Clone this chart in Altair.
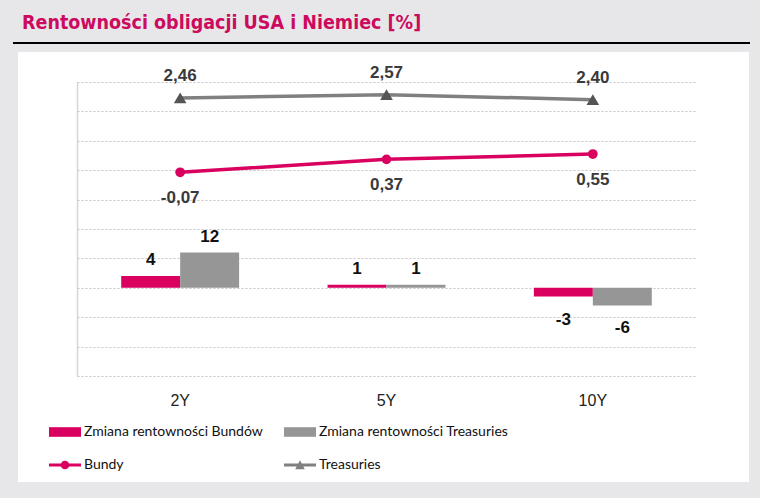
import altair as alt
import pandas as pd

# ---- data ----
categories = ["2Y", "5Y", "10Y"]
bund_yield = [-0.07, 0.37, 0.55]
treasury_yield = [2.46, 2.57, 2.40]
bund_change = [4, 1, -3]
treasury_change = [12, 1, -6]

series_bar = ["Zmiana rentowności Bundów", "Zmiana rentowności Treasuries"]
series_line = ["Bundy", "Treasuries"]
all_series = series_bar + series_line
title_text = "Rentowności obligacji USA i Niemiec [%]"

PINK = "#d9005f"
GRAY_BAR = "#969696"
GRAY_LINE = "#808080"
DARK_MARK = "#555555"
TITLE_COLOR = "#cc0a5e"
BG = "#e7e7e9"

bars_df = pd.DataFrame({
    "cat": categories * 2,
    "series": [series_bar[0]] * 3 + [series_bar[1]] * 3,
    "value": bund_change + treasury_change,
})
lines_df = pd.DataFrame({
    "cat": categories * 2,
    "series": [series_line[0]] * 3 + [series_line[1]] * 3,
    "value": bund_yield + treasury_yield,
})

bar_color_scale = alt.Scale(domain=series_bar, range=[PINK, GRAY_BAR])
line_color_scale = alt.Scale(domain=series_line, range=[PINK, GRAY_LINE])
fill_scale = alt.Scale(domain=all_series, range=[PINK, GRAY_BAR, PINK, GRAY_LINE])
shape_scale = alt.Scale(
    domain=all_series,
    range=[
        "M-1,-0.3H1V0.3H-1Z",
        "M-1,-0.3H1V0.3H-1Z",
        "M-1,-0.09H1V0.09H-1Z M-0.27,0 A0.27,0.27 0 1,1 0.27,0 A0.27,0.27 0 1,1 -0.27,0Z",
        "M-1,-0.09H1V0.09H-1Z M-0.3,0.26L0,-0.3L0.3,0.26Z",
    ],
)

x_enc = alt.X(
    "cat:N",
    sort=categories,
    scale=alt.Scale(paddingInner=0, paddingOuter=0),
    axis=alt.Axis(
        title=None, labelAngle=0, domain=False, ticks=False, grid=False,
        labelFont="Liberation Sans", labelFontSize=16, labelColor="#222222",
        labelPadding=16,
    ),
)
xoff_enc = alt.XOffset("series:N", sort=series_bar,
                       scale=alt.Scale(paddingInner=0, paddingOuter=0.75))
y_bar = alt.Y("value:Q", scale=alt.Scale(domain=[-30, 70], nice=False, zero=False), axis=None)
y_line_axis = alt.Y(
    "value:Q",
    scale=alt.Scale(domain=[-7, 3], nice=False, zero=False),
    axis=alt.Axis(
        orient="left", values=list(range(-7, 4)), labels=False, ticks=False,
        title=None, domain=True, domainColor="#d6d6d6", domainWidth=1.5,
        grid=True, gridColor="#c4c4c4", gridDash=[2, 2], gridWidth=1,
    ),
)
y_line = alt.Y("value:Q", scale=alt.Scale(domain=[-7, 3], nice=False, zero=False), axis=None)

one = alt.Data(values=[{"a": 1}])

# ---- decoration: grey margins around a white panel ----
def strip(x, x2, y, y2):
    return alt.Chart(one).mark_rect(color=BG).encode(
        x=alt.value(x), x2=alt.value(x2), y=alt.value(y), y2=alt.value(y2))

strips = [
    strip(-77, 683, -82, -30),
    strip(-77, -59, -82, 416),
    strip(672, 683, -82, 416),
    strip(-77, 683, 400, 416),
]
title_rule = alt.Chart(one).mark_rule(color="black", strokeWidth=2).encode(
    x=alt.value(-64), x2=alt.value(673), y=alt.value(-39)
)
title_mark = alt.Chart(one).transform_calculate(t=f"'{title_text}'").mark_text(
    font="DejaVu Sans Condensed, Lato", fontSize=19.5, fontWeight="bold", color=TITLE_COLOR,
    align="left", baseline="alphabetic",
).encode(x=alt.value(-55), y=alt.value(-53), text="t:N")

# ---- bars ----
bars = alt.Chart(bars_df).mark_bar().encode(
    x=x_enc, xOffset=xoff_enc, y=y_bar,
    color=alt.Color("series:N", scale=bar_color_scale, legend=None),
)
lab_fmt = "replace(format(datum.value, 'd'), '\u2212', '-')"
bar_lab_pos = alt.Chart(bars_df).transform_filter("datum.value >= 0").transform_calculate(
    lbl=lab_fmt
).mark_text(font="Liberation Sans", fontWeight="bold", fontSize=17, color="#111111",
            baseline="alphabetic", dy=-11).encode(
    x=x_enc, xOffset=xoff_enc, y=y_bar, text="lbl:N"
)
bar_lab_neg = alt.Chart(bars_df).transform_filter("datum.value < 0").transform_calculate(
    lbl=lab_fmt
).mark_text(font="Liberation Sans", fontWeight="bold", fontSize=17, color="#111111",
            baseline="alphabetic", dy=28).encode(
    x=x_enc, xOffset=xoff_enc, y=y_bar, text="lbl:N"
)

# ---- lines ----
lines = alt.Chart(lines_df).mark_line(strokeWidth=3.5).encode(
    x=x_enc, y=y_line_axis,
    stroke=alt.Stroke("series:N", scale=line_color_scale, legend=None),
)
bund_pts = alt.Chart(lines_df).transform_filter(f"datum.series == '{series_line[0]}'").mark_circle(
    color=PINK, size=95, opacity=1).encode(x=x_enc, y=y_line)
tr_pts = alt.Chart(lines_df).transform_filter(f"datum.series == '{series_line[1]}'").mark_point(
    shape="triangle-up", filled=True, color=DARK_MARK, size=160, opacity=1).encode(x=x_enc, y=y_line)

num_fmt = "replace(replace(format(datum.value, '.2f'), '.', ','), '\u2212', '-')"
bund_lab = alt.Chart(lines_df).transform_filter(f"datum.series == '{series_line[0]}'").transform_calculate(
    lbl=num_fmt
).mark_text(font="Liberation Sans", fontWeight="bold", fontSize=17, color="#3a3a3a",
            baseline="alphabetic", dy=31).encode(x=x_enc, y=y_line, text="lbl:N")
tr_lab = alt.Chart(lines_df).transform_filter(f"datum.series == '{series_line[1]}'").transform_calculate(
    lbl=num_fmt
).mark_text(font="Liberation Sans", fontWeight="bold", fontSize=17, color="#3a3a3a",
            baseline="alphabetic", dy=-17).encode(x=x_enc, y=y_line, text="lbl:N")

# ---- legend carrier (no marks drawn) ----
leg = alt.Legend(orient="none", legendX=-28, legendY=334, columns=2, direction="horizontal")
legend_layer = alt.Chart(lines_df).transform_filter("datum.value > 1000").mark_point(
    filled=True, opacity=1).encode(
    x=x_enc, y=y_line,
    fill=alt.Fill("series:N", scale=fill_scale, title=None, legend=leg),
    shape=alt.Shape("series:N", scale=shape_scale, title=None, legend=leg),
)

chart = alt.layer(
    *strips, title_rule, title_mark, bars, bar_lab_pos, bar_lab_neg,
    lines, bund_pts, tr_pts, bund_lab, tr_lab, legend_layer,
).resolve_scale(y="independent").properties(
    width=619, height=294,
    padding={"left": 77, "top": 82, "right": 64, "bottom": 122},
    autosize=alt.AutoSizeParams(type="none"),
    background="white",
).configure_view(stroke=None).configure_legend(
    symbolSize=1024, symbolStrokeWidth=0, labelFont="Lato", labelFontSize=14,
    labelColor="#111111", labelOffset=3, columnPadding=21, rowPadding=10,
    labelLimit=400,
)

chart.save("out.html", embed_options={"renderer": "svg", "actions": False})
